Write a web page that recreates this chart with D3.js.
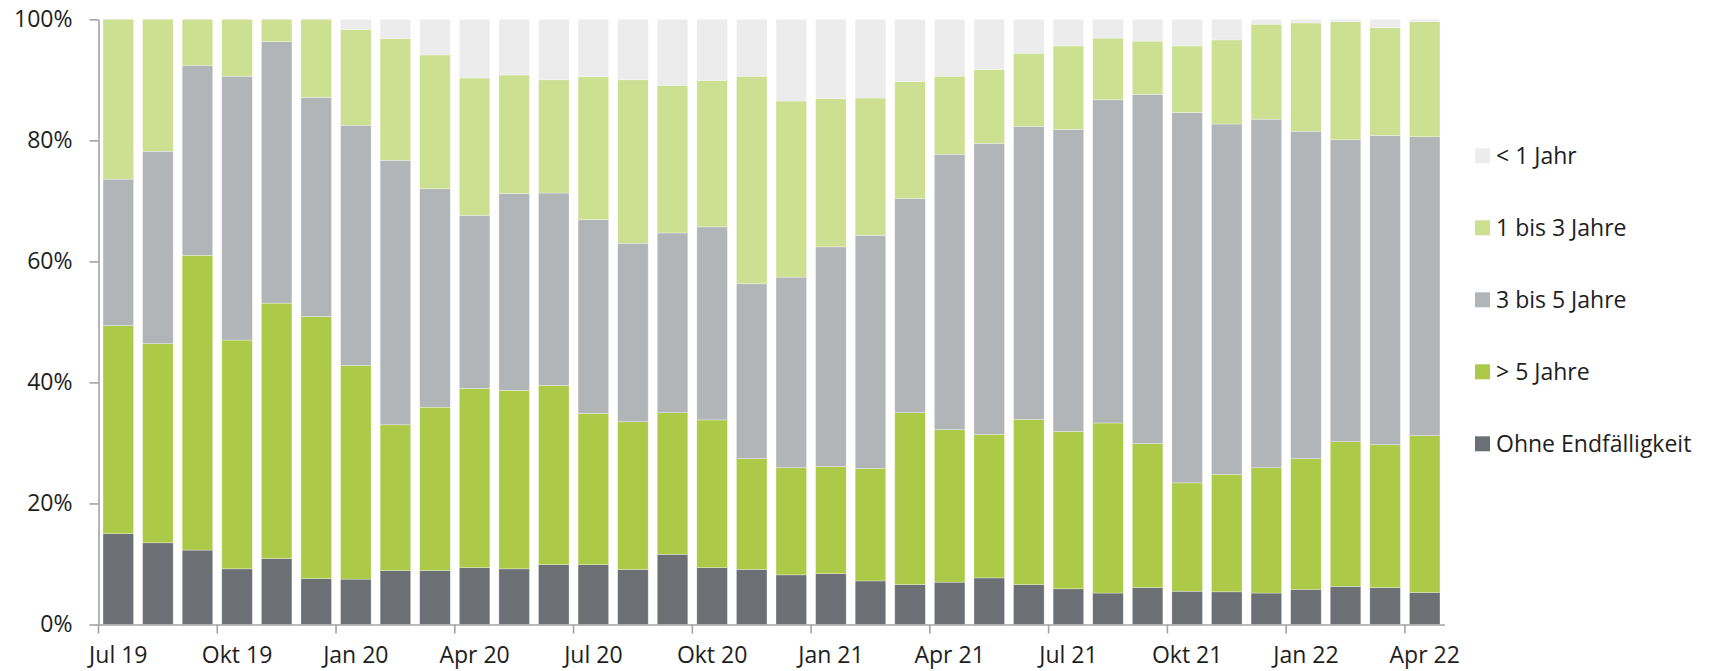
<!DOCTYPE html>
<html>
<head>
<meta charset="utf-8">
<script src="https://cdn.jsdelivr.net/npm/d3@7"></script>
<style>
  body { margin: 0; background: #fff; }
  svg { display: block; font-family: "Open Sans", sans-serif; }
</style>
</head>
<body>
<svg id="chart" width="1714" height="671"></svg>
<script>
const months = [
  "Jul 19", "Aug 19", "Sep 19", "Okt 19", "Nov 19", "Dez 19",
  "Jan 20", "Feb 20", "Mär 20", "Apr 20", "Mai 20", "Jun 20",
  "Jul 20", "Aug 20", "Sep 20", "Okt 20", "Nov 20", "Dez 20",
  "Jan 21", "Feb 21", "Mär 21", "Apr 21", "Mai 21", "Jun 21",
  "Jul 21", "Aug 21", "Sep 21", "Okt 21", "Nov 21", "Dez 21",
  "Jan 22", "Feb 22", "Mär 22", "Apr 22"
];
const tickLabels = ["Jul 19", "Okt 19", "Jan 20", "Apr 20", "Jul 20", "Okt 20",
  "Jan 21", "Apr 21", "Jul 21", "Okt 21", "Jan 22", "Apr 22"];
const yTicks = [0, 20, 40, 60, 80, 100];

// shares in %, bottom to top
const ohneEndfaelligkeit = [15.0, 13.5, 12.3, 9.2, 10.9, 7.6, 7.5, 8.9, 8.9, 9.4, 9.2, 9.9,
  9.9, 9.1, 11.6, 9.4, 9.1, 8.2, 8.4, 7.2, 6.6, 7.0, 7.7, 6.6,
  5.9, 5.2, 6.1, 5.5, 5.4, 5.2, 5.8, 6.3, 6.1, 5.3];
const ueber5 = [34.4, 32.9, 48.7, 37.8, 42.2, 43.3, 35.3, 24.1, 27.0, 29.6, 29.5, 29.6,
  25.0, 24.4, 23.4, 24.4, 18.3, 17.7, 17.7, 18.6, 28.4, 25.2, 23.7, 27.3,
  26.0, 28.1, 23.8, 17.9, 19.4, 20.7, 21.6, 23.9, 23.6, 25.9];
const drei5 = [24.2, 31.8, 31.4, 43.6, 43.2, 36.2, 39.7, 43.7, 36.1, 28.6, 32.5, 31.8,
  32.0, 29.5, 29.7, 31.9, 28.9, 31.5, 36.3, 38.5, 35.4, 45.5, 48.1, 48.4,
  49.9, 53.4, 57.7, 61.2, 57.9, 57.6, 54.1, 49.9, 51.1, 49.4];
const eins3 = [26.4, 21.8, 7.6, 9.4, 3.7, 12.9, 15.8, 20.1, 22.1, 22.7, 19.6, 18.7,
  23.6, 27.0, 24.4, 24.2, 34.3, 29.1, 24.5, 22.7, 19.3, 12.9, 12.2, 12.1,
  13.8, 10.2, 8.8, 11.0, 13.9, 15.7, 17.9, 19.5, 17.8, 19.0];
const unter1 = [0, 0, 0, 0, 0, 0, 1.7, 3.2, 5.9, 9.7, 9.2, 10.0,
  9.5, 10.0, 10.9, 10.1, 9.4, 13.5, 13.1, 13.0, 10.3, 9.4, 8.3, 5.6,
  4.4, 3.1, 3.6, 4.4, 3.4, 0.8, 0.6, 0.4, 1.4, 0.4];

const seriesKeys = ["Ohne Endfälligkeit", "> 5 Jahre", "3 bis 5 Jahre", "1 bis 3 Jahre", "< 1 Jahr"];
const seriesColors = ["#6c7074", "#acc947", "#b2b5b8", "#cddf91", "#ececec"];
const legendOrder = ["< 1 Jahr", "1 bis 3 Jahre", "3 bis 5 Jahre", "> 5 Jahre", "Ohne Endfälligkeit"];

const table = months.map((m, i) => ({
  month: m,
  "Ohne Endfälligkeit": ohneEndfaelligkeit[i],
  "> 5 Jahre": ueber5[i],
  "3 bis 5 Jahre": drei5[i],
  "1 bis 3 Jahre": eins3[i],
  "< 1 Jahr": unter1[i]
}));

const svg = d3.select("#chart");
const plotLeft = 98.5, plotRight = 1444.5, plotTop = 19.3, plotBottom = 624.5;

const x = d3.scaleBand()
  .domain(months)
  .range([plotLeft, plotRight])
  .paddingInner(0.228)
  .paddingOuter(0.114);

const y = d3.scaleLinear()
  .domain([0, 100])
  .range([plotBottom, plotTop]);

const color = d3.scaleOrdinal().domain(seriesKeys).range(seriesColors);

const stacked = d3.stack().keys(seriesKeys)(table);

svg.append("g")
  .selectAll("g")
  .data(stacked)
  .join("g")
  .attr("fill", d => color(d.key))
  .selectAll("rect")
  .data(d => d)
  .join("rect")
  .attr("x", d => x(d.data.month))
  .attr("width", x.bandwidth())
  .attr("y", d => y(d[1]))
  .attr("height", d => Math.max(0, y(d[0]) - y(d[1])))
  .attr("stroke", "#ffffff")
  .attr("stroke-opacity", 0.5)
  .attr("stroke-width", 0.6);

// y axis
const yAxisG = svg.append("g")
  .attr("transform", `translate(${plotLeft},0)`)
  .call(d3.axisLeft(y).tickValues(yTicks).tickFormat(d => d + "%")
    .tickSize(9).tickSizeOuter(0).tickPadding(17));

// x axis, ticks between the months, labels centred on the bar
const xAxisG = svg.append("g")
  .attr("transform", `translate(0,${plotBottom})`)
  .call(d3.axisBottom(x).tickValues(tickLabels).tickSize(9).tickSizeOuter(0));

xAxisG.selectAll(".tick line")
  .attr("x1", -x.step() / 2)
  .attr("x2", -x.step() / 2);
xAxisG.selectAll(".tick text")
  .attr("y", 38.5)
  .attr("dy", 0);

[yAxisG, xAxisG].forEach(g => {
  g.selectAll("path.domain, .tick line")
    .attr("stroke", "#a3a3a3")
    .attr("stroke-width", 1.6);
  g.selectAll(".tick text")
    .attr("fill", "#1e1e1e")
    .style("font-size", "23px")
    .style("font-family", "'Open Sans', sans-serif");
});

// legend
const legend = svg.append("g")
  .selectAll("g")
  .data(legendOrder)
  .join("g")
  .attr("transform", (d, i) => `translate(1475,${155.8 + i * 72})`);

legend.append("rect")
  .attr("x", 0)
  .attr("y", -7.5)
  .attr("width", 15)
  .attr("height", 15)
  .attr("fill", d => color(d));

legend.append("text")
  .attr("x", 21)
  .attr("dy", "0.35em")
  .attr("fill", "#1e1e1e")
  .style("font-size", "23px")
  .text(d => d);
</script>
</body>
</html>
